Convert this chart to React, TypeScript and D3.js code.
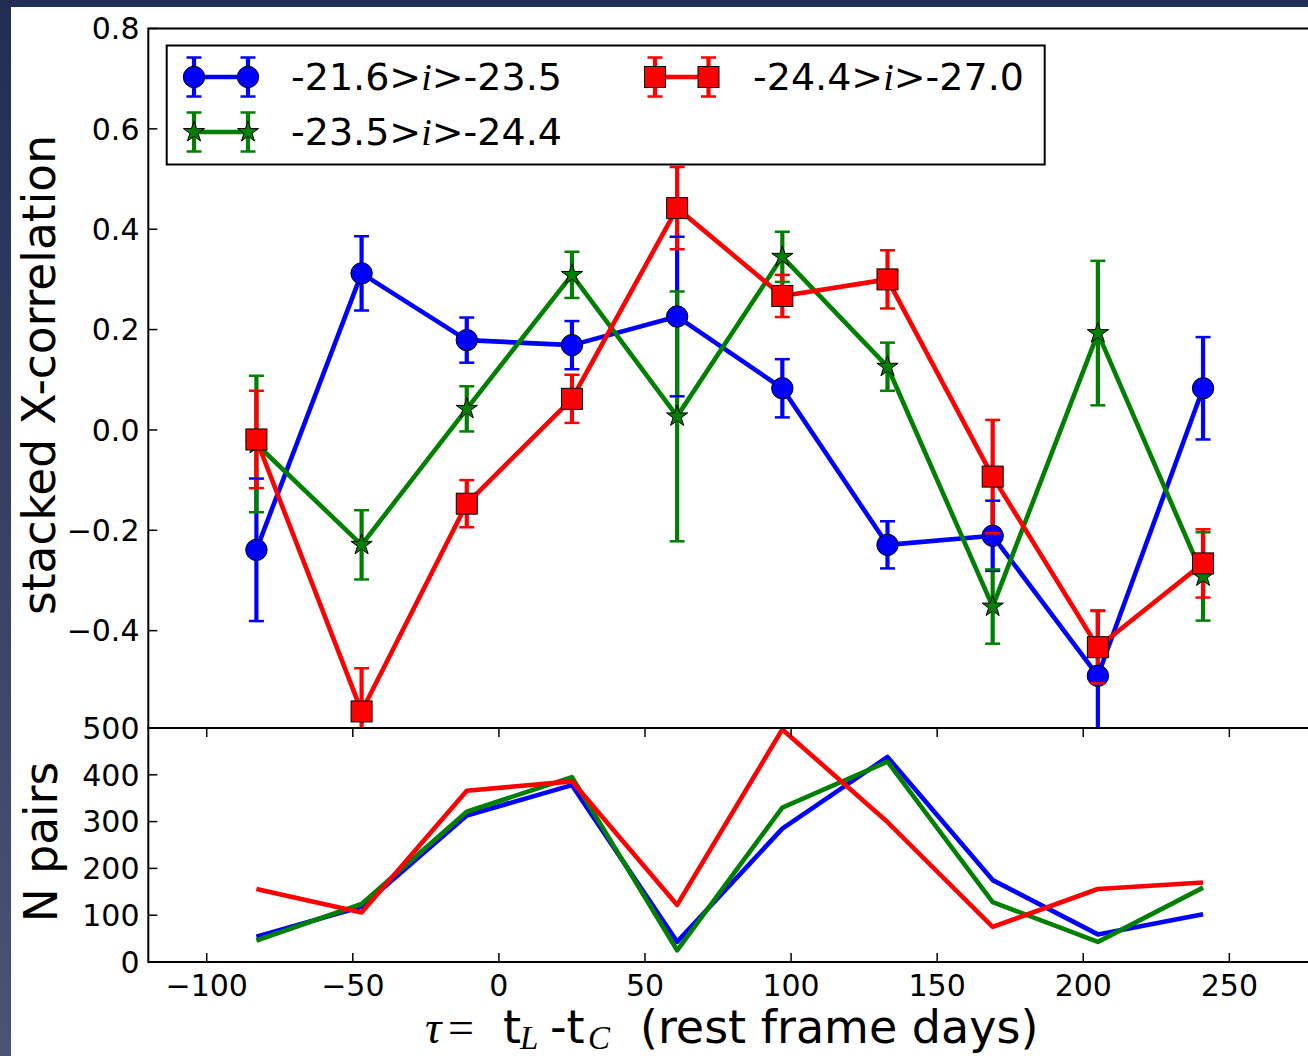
import React from "react";
import * as d3 from "d3";

// Lag bins (rest-frame days)
const lags = [-83, -47, -11, 25, 61, 97, 133, 169, 205, 241];

// Axis ticks
const lagTicks = [-100, -50, 0, 50, 100, 150, 200, 250];
const corrTicks = [0.8, 0.6, 0.4, 0.2, 0.0, -0.2, -0.4];
const pairTicks = [0, 100, 200, 300, 400, 500];

// Stacked cross-correlation and 1-sigma errors, per luminosity bin
const corrFaint = [-0.239, 0.312, 0.179, 0.169, 0.226, 0.083, -0.229, -0.211, -0.49, 0.083];
const errFaint = [0.142, 0.074, 0.045, 0.048, 0.159, 0.058, 0.047, 0.07, 0.13, 0.102];
const corrMid = [-0.028, -0.229, 0.042, 0.309, 0.027, 0.345, 0.126, -0.352, 0.193, -0.292];
const errMid = [0.136, 0.069, 0.045, 0.046, 0.249, 0.05, 0.048, 0.074, 0.144, 0.088];
const corrBright = [-0.019, -0.561, -0.147, 0.062, 0.442, 0.267, 0.3, -0.093, -0.433, -0.266];
const errBright = [0.097, 0.086, 0.047, 0.048, 0.082, 0.042, 0.058, 0.113, 0.072, 0.068];

// Number of quasar pairs per lag bin
const pairsFaint = [54, 118, 313, 378, 43, 285, 438, 175, 59, 102];
const pairsMid = [46, 124, 321, 395, 25, 330, 428, 128, 43, 159];
const pairsBright = [156, 106, 366, 386, 122, 497, 299, 75, 156, 170];

// Legend labels: [left bound, right bound] of the i-band magnitude range
const binBounds: [string, string][] = [
  ["-21.6", "-23.5"],
  ["-23.5", "-24.4"],
  ["-24.4", "-27.0"],
];

type Marker = "circle" | "star" | "square";

const series = [
  { color: "#0000ff", marker: "circle" as Marker, corr: corrFaint, err: errFaint, pairs: pairsFaint, bounds: binBounds[0] },
  { color: "#008000", marker: "star" as Marker, corr: corrMid, err: errMid, pairs: pairsMid, bounds: binBounds[1] },
  { color: "#ff0000", marker: "square" as Marker, corr: corrBright, err: errBright, pairs: pairsBright, bounds: binBounds[2] },
];

const W = 1308;
const H = 1056;
const left = 148.3;
const right = 1317;
const topY = 28.5;
const splitY = 728;
const bottomY = 962;

const x = d3.scaleLinear().domain([-120, 280]).range([left, right]);
const yCorr = d3.scaleLinear().domain([-0.6, 0.8]).range([731, topY]);
const yPairs = d3.scaleLinear().domain([0, 500]).range([bottomY, splitY]);

const fmtCorr = d3.format(".1f");
const fmtInt = d3.format("d");

const SANS = "'DejaVu Sans', sans-serif";
const SERIF = "'Liberation Serif', 'DejaVu Serif', serif";

const starPath = d3.symbol().type(d3.symbolStar).size(140)()!;

function MarkerShape({ kind, cx, cy, color }: { kind: Marker; cx: number; cy: number; color: string }) {
  if (kind === "circle")
    return <circle cx={cx} cy={cy} r={10.7} fill={color} stroke="#000" strokeWidth={1} />;
  if (kind === "square")
    return <rect x={cx - 10.5} y={cy - 10.5} width={21} height={21} fill={color} stroke="#000" strokeWidth={1} />;
  return <path d={starPath} transform={`translate(${cx},${cy})`} fill={color} stroke="#000" strokeWidth={1} />;
}

const CAP = 7.5;
const LINE_W = 4.6;
const BAR_W = 4.2;

export default function App() {
  const corrLine = (vals: number[]) =>
    d3.line<number>().x((_, i) => x(lags[i])).y((v) => yCorr(v))(vals) || "";
  const pairLine = (vals: number[]) =>
    d3.line<number>().x((_, i) => x(lags[i])).y((v) => yPairs(v))(vals) || "";

  const legendRows = [
    { s: series[0], x0: 194, x1: 248, y: 77, tx: 291, ty: 90 },
    { s: series[1], x0: 194, x1: 248, y: 132, tx: 291, ty: 145 },
    { s: series[2], x0: 655, x1: 708.5, y: 77, tx: 753, ty: 90 },
  ];

  return (
    <svg
      width={W}
      height={H}
      viewBox={`0 0 ${W} ${H}`}
      style={{ position: "absolute", left: 0, top: 0, display: "block" }}
    >
      <defs>
        <linearGradient id="sideBand" x1="0" y1="0" x2="0" y2="1">
          <stop offset="0" stopColor="#222d54" />
          <stop offset="1" stopColor="#4a5575" />
        </linearGradient>
        <clipPath id="clipTop">
          <rect x={left} y={topY} width={right - left} height={splitY - topY} />
        </clipPath>
        <clipPath id="clipBottom">
          <rect x={left} y={splitY} width={right - left} height={bottomY - splitY} />
        </clipPath>
      </defs>

      {/* slide background */}
      <rect x={0} y={0} width={W} height={H} fill="#232f56" />
      <rect x={0} y={0} width={11} height={H} fill="url(#sideBand)" />
      <rect x={11} y={7} width={W - 11} height={H - 7} fill="#ffffff" />

      {/* upper panel: cross-correlation with error bars */}
      <g clipPath="url(#clipTop)">
        {series.map((s, si) => (
          <g key={`eb${si}`}>
            {s.corr.map((v, i) => (
              <line
                key={i}
                x1={x(lags[i])}
                x2={x(lags[i])}
                y1={yCorr(v - s.err[i])}
                y2={yCorr(v + s.err[i])}
                stroke={s.color}
                strokeWidth={BAR_W}
              />
            ))}
          </g>
        ))}
        {series.map((s, si) => (
          <g key={`ln${si}`}>
            <path d={corrLine(s.corr)} fill="none" stroke={s.color} strokeWidth={LINE_W} strokeLinejoin="round" />
            {s.corr.map((v, i) => (
              <MarkerShape key={i} kind={s.marker} cx={x(lags[i])} cy={yCorr(v)} color={s.color} />
            ))}
            {s.corr.map((v, i) => (
              <g key={`c${i}`} stroke={s.color} strokeWidth={2.5}>
                <line x1={x(lags[i]) - CAP} x2={x(lags[i]) + CAP} y1={yCorr(v + s.err[i])} y2={yCorr(v + s.err[i])} />
                <line x1={x(lags[i]) - CAP} x2={x(lags[i]) + CAP} y1={yCorr(v - s.err[i])} y2={yCorr(v - s.err[i])} />
              </g>
            ))}
          </g>
        ))}
      </g>

      {/* lower panel: number of pairs */}
      <g clipPath="url(#clipBottom)">
        {series.map((s, si) => (
          <path key={si} d={pairLine(s.pairs)} fill="none" stroke={s.color} strokeWidth={LINE_W} strokeLinejoin="round" />
        ))}
      </g>

      {/* frames */}
      <g fill="none" stroke="#000" strokeWidth={2}>
        <rect x={left} y={topY} width={right - left} height={splitY - topY} />
        <rect x={left} y={splitY} width={right - left} height={bottomY - splitY} />
      </g>

      {/* ticks */}
      <g stroke="#000" strokeWidth={1.5}>
        {corrTicks.map((t) => (
          <g key={`ct${t}`}>
            <line x1={left} x2={left + 9} y1={yCorr(t)} y2={yCorr(t)} />
            <line x1={right} x2={right - 9} y1={yCorr(t)} y2={yCorr(t)} />
          </g>
        ))}
        {pairTicks.map((t) => (
          <g key={`pt${t}`}>
            <line x1={left} x2={left + 9} y1={yPairs(t)} y2={yPairs(t)} />
            <line x1={right} x2={right - 9} y1={yPairs(t)} y2={yPairs(t)} />
          </g>
        ))}
        {lagTicks.map((t) => (
          <g key={`lt${t}`}>
            <line x1={x(t)} x2={x(t)} y1={bottomY} y2={bottomY - 9} />
            <line x1={x(t)} x2={x(t)} y1={splitY} y2={splitY + 9} />
          </g>
        ))}
      </g>

      {/* tick labels */}
      <g fontFamily={SANS} fontSize={30} fill="#000">
        {corrTicks.map((t) => (
          <text key={`cl${t}`} x={139.5} y={yCorr(t) + 10.8} textAnchor="end">
            {fmtCorr(t)}
          </text>
        ))}
        {pairTicks.map((t) => (
          <text key={`pl${t}`} x={139.5} y={yPairs(t) + 10.8} textAnchor="end">
            {fmtInt(t)}
          </text>
        ))}
        {lagTicks.map((t) => (
          <text key={`ll${t}`} x={x(t)} y={996} textAnchor="middle">
            {fmtInt(t)}
          </text>
        ))}
      </g>

      {/* axis titles */}
      <g fontFamily={SANS} fontSize={45.5} fill="#000">
        <text transform="translate(55,375) rotate(-90)" textAnchor="middle">
          stacked X-correlation
        </text>
        <text transform="translate(57,842) rotate(-90)" textAnchor="middle">
          N pairs
        </text>
      </g>
      <g fill="#000" fontSize={46}>
        <text x={425} y={1043} fontFamily={SERIF} fontStyle="italic">τ</text>
        <text x={448} y={1043} fontFamily={SERIF}>=</text>
        <text x={503} y={1043} fontFamily={SANS}>t</text>
        <text x={520} y={1049} fontFamily={SERIF} fontStyle="italic" fontSize={33}>L</text>
        <text x={550} y={1043} fontFamily={SANS}>-t</text>
        <text x={588} y={1049} fontFamily={SERIF} fontStyle="italic" fontSize={33}>C</text>
        <text x={640} y={1043} fontFamily={SANS}>(rest frame days)</text>
      </g>

      {/* legend */}
      <rect x={166.7} y={45.5} width={878} height={119} fill="#fff" stroke="#000" strokeWidth={2} />
      {legendRows.map((r, i) => (
        <g key={`lg${i}`}>
          {[r.x0, r.x1].map((cx, j) => (
            <line key={`v${j}`} x1={cx} x2={cx} y1={r.y - 19.5} y2={r.y + 19.5} stroke={r.s.color} strokeWidth={BAR_W} />
          ))}
          <line x1={r.x0} x2={r.x1} y1={r.y} y2={r.y} stroke={r.s.color} strokeWidth={LINE_W} />
          {[r.x0, r.x1].map((cx, j) => (
            <MarkerShape key={`m${j}`} kind={r.s.marker} cx={cx} cy={r.y} color={r.s.color} />
          ))}
          {[r.x0, r.x1].map((cx, j) => (
            <g key={`c${j}`} stroke={r.s.color} strokeWidth={2.5}>
              <line x1={cx - CAP} x2={cx + CAP} y1={r.y - 19.5} y2={r.y - 19.5} />
              <line x1={cx - CAP} x2={cx + CAP} y1={r.y + 19.5} y2={r.y + 19.5} />
            </g>
          ))}
          <text x={r.tx} y={r.ty} fontFamily={SANS} fontSize={38} fill="#000">
            {r.s.bounds[0]}&gt;
            <tspan fontFamily={SERIF} fontStyle="italic">i</tspan>
            &gt;{r.s.bounds[1]}
          </text>
        </g>
      ))}
    </svg>
  );
}
